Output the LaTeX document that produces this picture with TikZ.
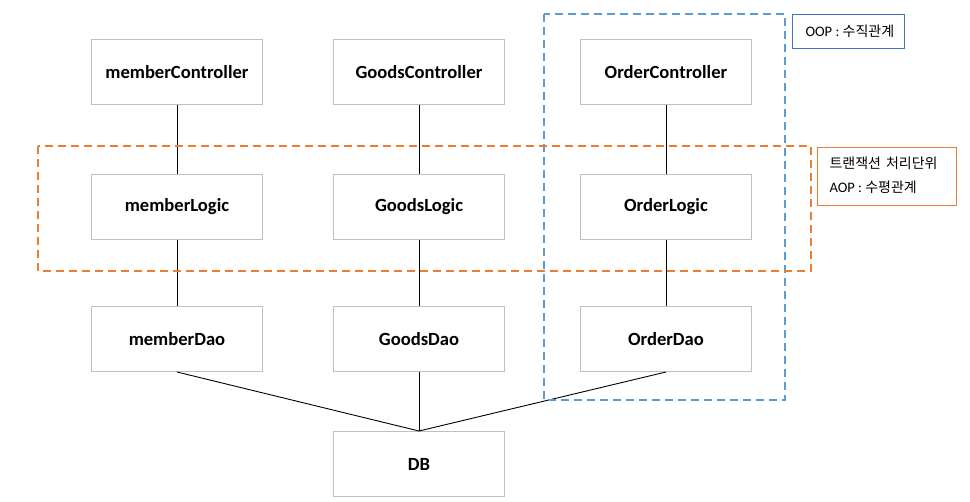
\documentclass[tikz,border=0pt]{standalone}
\usepackage{fontspec}
\setmainfont{Carlito}
\newfontfamily\krfont{Noto Sans CJK KR}
\begin{document}
\begin{tikzpicture}[x=1pt,y=-1pt,
  box/.style={draw=boxgray, line width=1pt, minimum width=171pt, minimum height=65pt, inner sep=0pt, font=\fontsize{18.6}{20}\selectfont\bfseries, anchor=north west},
  conn/.style={draw=black, line width=0.9pt},
  dbox/.style={line width=2pt, dash pattern=on 8pt off 5pt},
  lbl/.style={font=\fontsize{14.5}{16}\selectfont},
  kr/.style={}
]
\definecolor{boxgray}{HTML}{BFBFBF}
\definecolor{oopblue}{HTML}{5B9BD5}
\definecolor{oopedge}{HTML}{4472C4}
\definecolor{aoporange}{HTML}{ED7D31}
\useasboundingbox (0,0) rectangle (970,502);
\fill[white] (0,0) rectangle (970,502);

\node[box] (mc) at (91,39) {memberController};
\node[box] (gc) at (333,39) {GoodsController};
\node[box] (oc) at (580,39) {OrderController};
\node[box] (ml) at (91,174) {memberLogic};
\node[box] (gl) at (333,174) {GoodsLogic};
\node[box] (ol) at (580,174) {OrderLogic};
\node[box] (md) at (91,306) {memberDao};
\node[box] (gd) at (333,306) {GoodsDao};
\node[box] (od) at (580,306) {OrderDao};
\node[box] (db) at (333,431) {DB};

\draw[conn] (mc.south) -- (ml.north);
\draw[conn] (ml.south) -- (md.north);
\draw[conn] (gc.south) -- (gl.north);
\draw[conn] (gl.south) -- (gd.north);
\draw[conn] (oc.south) -- (ol.north);
\draw[conn] (ol.south) -- (od.north);
\draw[conn] (md.south) -- (db.north);
\draw[conn] (gd.south) -- (db.north);
\draw[conn] (od.south) -- (db.north);

\draw[dbox, oopblue] (544,14) rectangle (785,400);
\draw[dbox, aoporange] (38,146) rectangle (811,271);

\node[draw=oopedge, line width=1pt, minimum width=112pt, minimum height=34pt, anchor=north west, inner sep=0pt] (oopbox) at (792,14) {};
\node[lbl, anchor=west] (ooplbl) at ([xshift=10pt]oopbox.west) {OOP : {\krfont\fontsize{14}{16}\selectfont 수직관계}};

\node[draw=aoporange, line width=1pt, minimum width=139pt, minimum height=58pt, anchor=north west, inner sep=0pt] (aopbox) at (817,147) {};
\node[lbl, anchor=west] (aop1) at (826,163) {\krfont\fontsize{14}{16}\selectfont 트랜잭션\hspace{5pt}처리단위};
\node[lbl, anchor=west] (aop2) at (826,187) {AOP : {\krfont\fontsize{14}{16}\selectfont 수평관계}};
\end{tikzpicture}
\end{document}
